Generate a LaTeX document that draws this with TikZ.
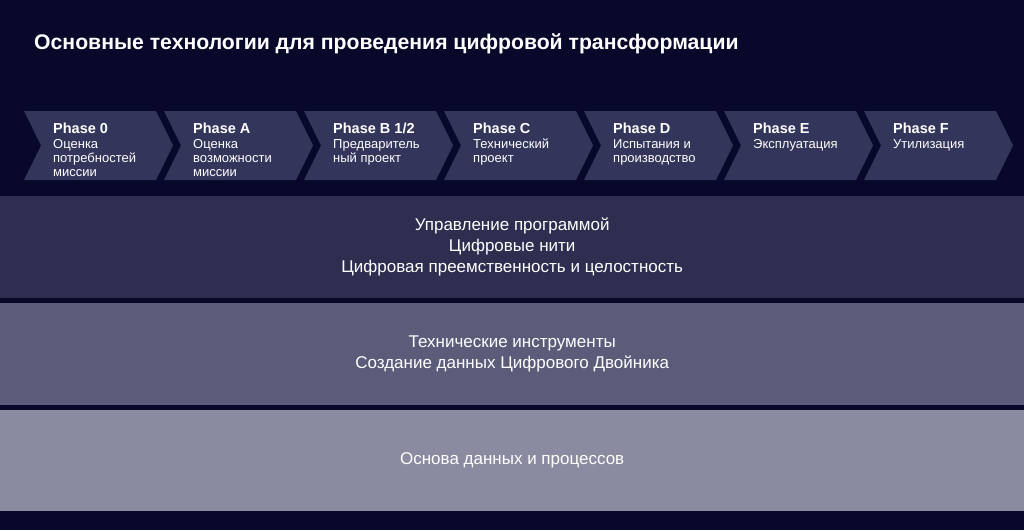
\documentclass[tikz,border=0pt]{standalone}
\usepackage{fontspec}
\setmainfont{Liberation Sans}
\begin{document}
\begin{tikzpicture}[x=1pt,y=-1pt,
  chev/.style={fill=chevc,draw=none},
  phlabel/.style={anchor=north west,text=white,align=left,inner sep=0pt,font=\fontsize{13}{14}\selectfont},
  band/.style={draw=none,minimum width=1024pt,minimum height=102pt,anchor=north west,text=white,align=center,font=\fontsize{17}{21}\selectfont}]
\definecolor{bgc}{HTML}{07082A}
\definecolor{chevc}{HTML}{33355A}
\definecolor{b1}{HTML}{2E2F50}
\definecolor{b2}{HTML}{5B5C7A}
\definecolor{b3}{HTML}{8A8AA0}
\fill[bgc] (0,0) rectangle (1024,530);
\useasboundingbox (0,0) rectangle (1024,530);
\node[anchor=west,text=white,font=\bfseries\fontsize{21.2}{24}\selectfont,inner sep=0pt] (title) at (34,44) {Основные технологии для проведения цифровой трансформации};
\foreach \i/\t/\s in {0/Phase 0/{Оценка\\потребностей\\миссии},1/Phase A/{Оценка\\возможности\\миссии},2/Phase B 1\slash 2/{Предваритель\\ный проект},3/Phase C/{Технический\\проект},4/Phase D/{Испытания и\\производство},5/Phase E/{Эксплуатация},6/Phase F/{Утилизация}}{
  \pgfmathsetmacro\xa{24+140*\i}
  \fill[chev] (\xa,111) -- (\xa+132,111) -- (\xa+149,145.5) -- (\xa+132,180) -- (\xa,180) -- (\xa+17,145.5) -- cycle;
  \node[phlabel] (p\i) at (\xa+29,123) {\textbf{\fontsize{14.5}{16}\selectfont \t}\\[0.5pt]\s};
}
\node[band,fill=b1] (band1) at (0,196) {Управление программой\\Цифровые нити\\Цифровая преемственность и целостность};
\node[band,fill=b2] (band2) at (0,303) {Технические инструменты\\Создание данных Цифрового Двойника};
\node[band,fill=b3,minimum height=101pt] (band3) at (0,410) {Основа данных и процессов};
\end{tikzpicture}
\end{document}
